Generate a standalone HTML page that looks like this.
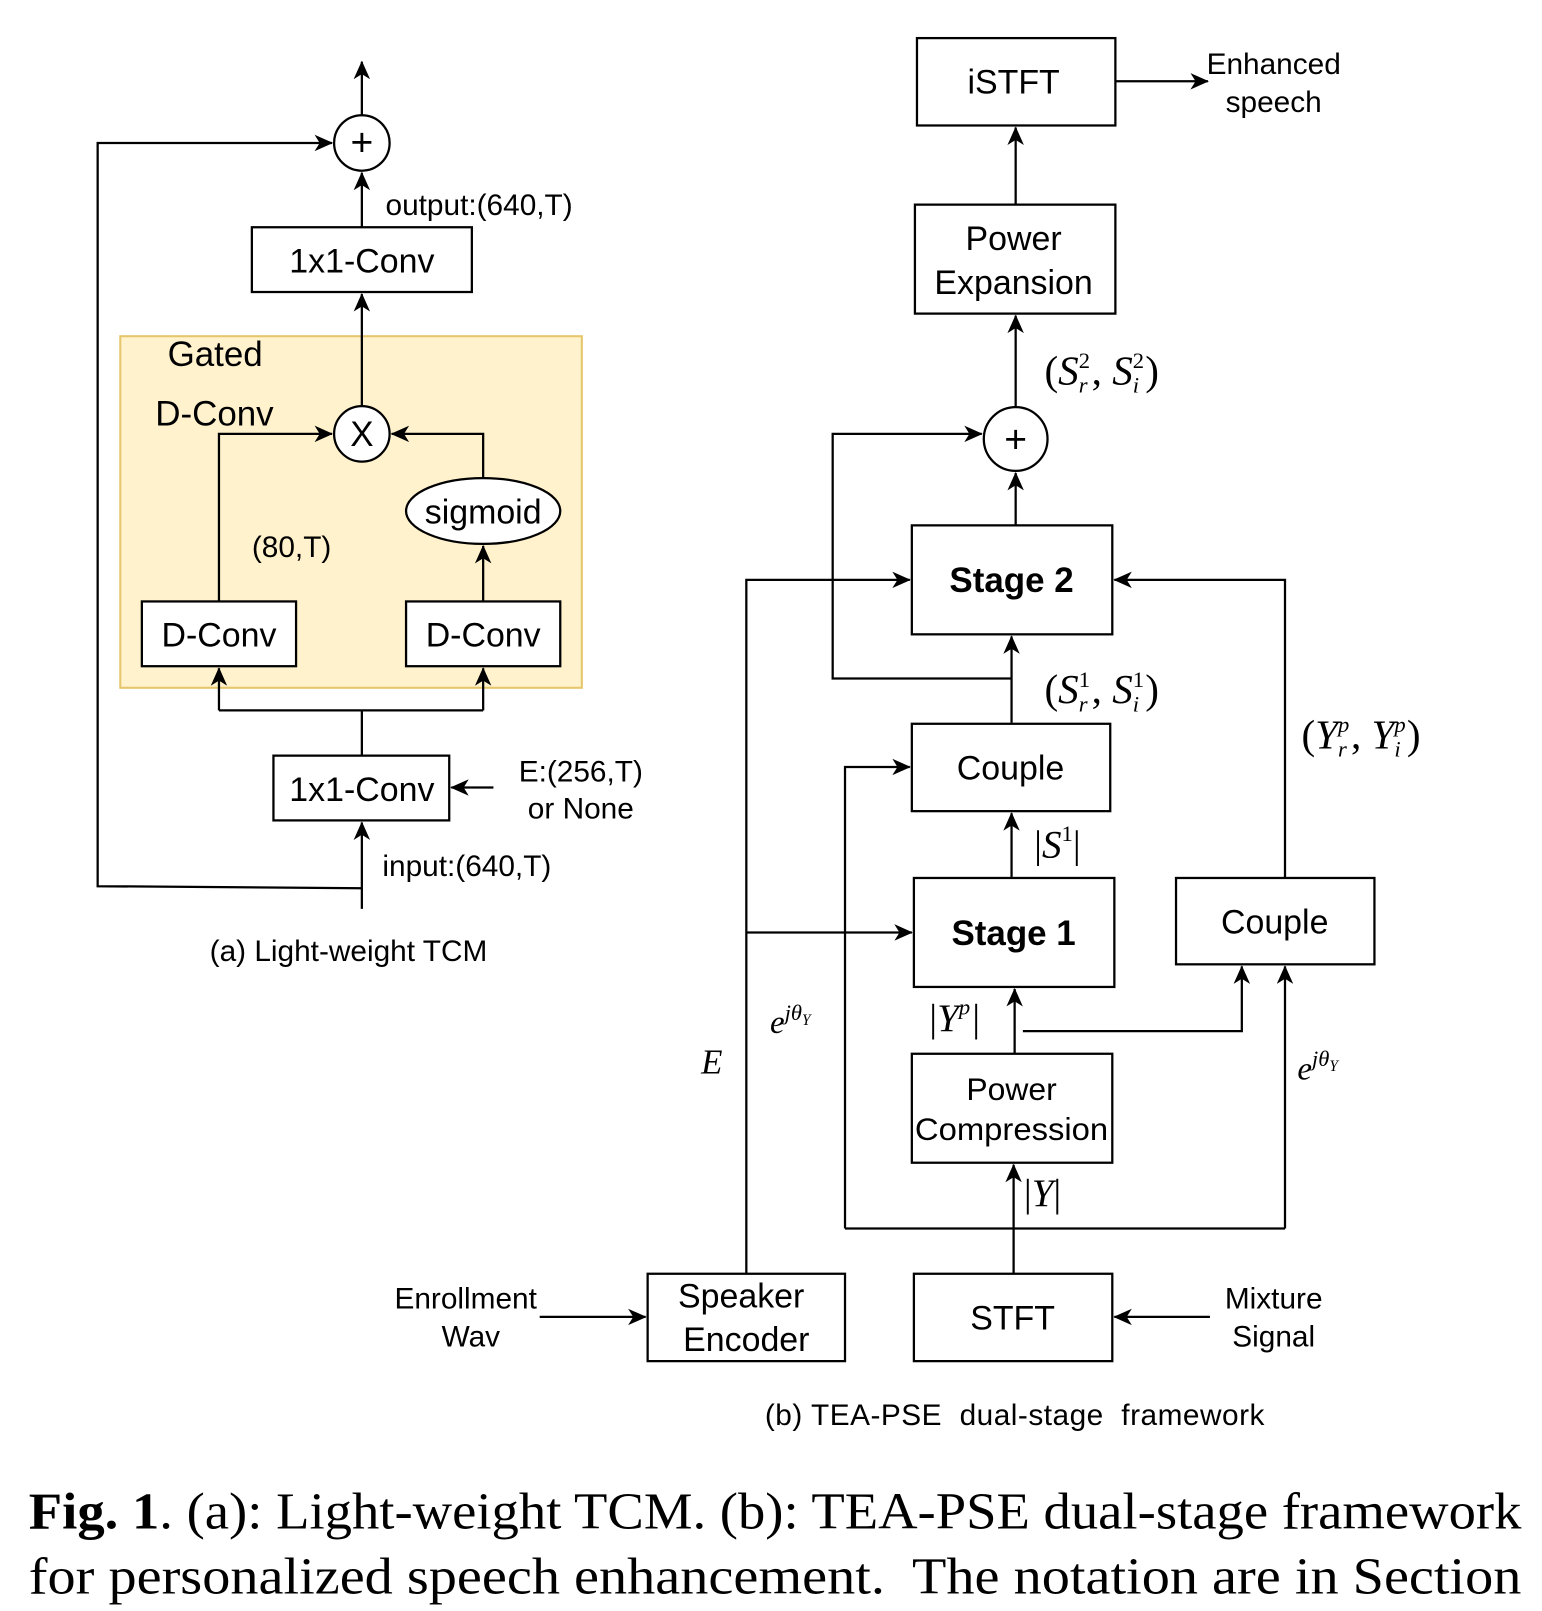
<!DOCTYPE html>
<html><head><meta charset="utf-8"><style>
html,body{margin:0;padding:0;background:#fff}
svg{display:block}
.s{font-family:"Liberation Sans",Arial,sans-serif;fill:#000}
.m{font-family:"Liberation Serif",serif;fill:#000}
.b{fill:#fff;stroke:#000;stroke-width:2.2}
.l{fill:none;stroke:#000;stroke-width:2.2}
</style></head><body>
<svg width="1542" height="1611" viewBox="0 0 1500 1567" xmlns="http://www.w3.org/2000/svg">
<defs><marker id="a" markerWidth="18" markerHeight="16" refX="17" refY="8" orient="auto" markerUnits="userSpaceOnUse"><path d="M0,0 L18,8 L0,16 L5,8 Z" fill="#000"/></marker></defs>

<!-- LEFT -->
<rect x="117" y="327" width="449" height="342" fill="#fff2cc" stroke="#e6c66a" stroke-width="2"/>
<line class="l" x1="352" y1="112" x2="352" y2="60" marker-end="url(#a)"/>
<circle class="b" cx="352" cy="139" r="27"/>
<text class="s" x="352" y="151" font-size="38" text-anchor="middle">+</text>
<polyline class="l" points="352,864 95,862 95,139 323,139" marker-end="url(#a)"/>
<line class="l" x1="352" y1="221" x2="352" y2="168" marker-end="url(#a)"/>
<text class="s" x="375" y="209" font-size="29">output:(640,T)</text>
<rect class="b" x="245" y="221" width="214" height="63"/>
<text class="s" x="352" y="265" font-size="33" text-anchor="middle">1x1-Conv</text>
<text class="s" x="163" y="356" font-size="34">Gated</text>
<text class="s" x="151" y="414" font-size="34">D-Conv</text>
<line class="l" x1="352" y1="395" x2="352" y2="286" marker-end="url(#a)"/>
<circle class="b" cx="352" cy="422" r="27"/>
<text class="s" x="352" y="434" font-size="34" text-anchor="middle">X</text>
<polyline class="l" points="213,585 213,422 323,422" marker-end="url(#a)"/>
<polyline class="l" points="470,465 470,422 381,422" marker-end="url(#a)"/>
<ellipse class="b" cx="470" cy="497" rx="75" ry="32"/>
<text class="s" x="470" y="509" font-size="33" text-anchor="middle">sigmoid</text>
<line class="l" x1="470" y1="585" x2="470" y2="531" marker-end="url(#a)"/>
<text class="s" x="245" y="542" font-size="29">(80,T)</text>
<rect class="b" x="138" y="585" width="150" height="63"/>
<text class="s" x="213" y="629" font-size="33" text-anchor="middle">D-Conv</text>
<rect class="b" x="395" y="585" width="150" height="63"/>
<text class="s" x="470" y="629" font-size="33" text-anchor="middle">D-Conv</text>
<line class="l" x1="352" y1="735" x2="352" y2="691"/>
<line class="l" x1="213" y1="691" x2="470" y2="691"/>
<line class="l" x1="213" y1="691" x2="213" y2="650" marker-end="url(#a)"/>
<line class="l" x1="470" y1="691" x2="470" y2="650" marker-end="url(#a)"/>
<rect class="b" x="266" y="735" width="171" height="63"/>
<text class="s" x="352" y="779" font-size="33" text-anchor="middle">1x1-Conv</text>
<line class="l" x1="480" y1="766" x2="439" y2="766" marker-end="url(#a)"/>
<text class="s" x="565" y="760" font-size="29" text-anchor="middle">E:(256,T)</text>
<text class="s" x="565" y="796" font-size="29" text-anchor="middle">or None</text>
<line class="l" x1="352" y1="884" x2="352" y2="800" marker-end="url(#a)"/>
<text class="s" x="372" y="852" font-size="29">input:(640,T)</text>
<text class="s" x="339" y="935" font-size="29" text-anchor="middle">(a) Light-weight TCM</text>

<!-- RIGHT -->
<rect class="b" x="892" y="37" width="193" height="85"/>
<text class="s" x="986" y="91" font-size="33" text-anchor="middle">iSTFT</text>
<line class="l" x1="1085" y1="79" x2="1175" y2="79" marker-end="url(#a)"/>
<text class="s" x="1239" y="72" font-size="29" text-anchor="middle">Enhanced</text>
<text class="s" x="1239" y="109" font-size="29" text-anchor="middle">speech</text>
<line class="l" x1="988" y1="199" x2="988" y2="124" marker-end="url(#a)"/>
<rect class="b" x="890" y="199" width="195" height="106"/>
<text class="s" x="986" y="243" font-size="33" text-anchor="middle">Power</text>
<text class="s" x="986" y="286" font-size="33" text-anchor="middle">Expansion</text>
<line class="l" x1="988" y1="396" x2="988" y2="307" marker-end="url(#a)"/>
<text class="m" x="1016" y="374" font-size="40">(<tspan font-style="italic">S</tspan><tspan font-size="22" dy="-16">2</tspan><tspan font-size="22" font-style="italic" dx="-11" dy="24">r</tspan><tspan dy="-8" dx="4">, </tspan><tspan font-style="italic">S</tspan><tspan font-size="22" dy="-16">2</tspan><tspan font-size="22" font-style="italic" dx="-11" dy="24">i</tspan><tspan dy="-8" dx="6">)</tspan></text>
<circle class="b" cx="988" cy="427" r="31"/>
<text class="s" x="988" y="440" font-size="38" text-anchor="middle">+</text>
<line class="l" x1="988" y1="511" x2="988" y2="460" marker-end="url(#a)"/>
<polyline class="l" points="984,660 810,660 810,422 955,422" marker-end="url(#a)"/>
<rect class="b" x="887" y="511" width="195" height="106"/>
<text class="s" x="984" y="576" font-size="34" font-weight="bold" text-anchor="middle">Stage 2</text>
<line class="l" x1="984" y1="703" x2="984" y2="619" marker-end="url(#a)"/>
<text class="m" x="1016" y="684" font-size="40">(<tspan font-style="italic">S</tspan><tspan font-size="22" dy="-16">1</tspan><tspan font-size="22" font-style="italic" dx="-11" dy="24">r</tspan><tspan dy="-8" dx="4">, </tspan><tspan font-style="italic">S</tspan><tspan font-size="22" dy="-16">1</tspan><tspan font-size="22" font-style="italic" dx="-11" dy="24">i</tspan><tspan dy="-8" dx="6">)</tspan></text>
<polyline class="l" points="726,1239 726,564 885,564" marker-end="url(#a)"/>
<line class="l" x1="726" y1="907" x2="887" y2="907" marker-end="url(#a)"/>
<polyline class="l" points="1250,853 1250,564 1084,564" marker-end="url(#a)"/>
<text class="m" x="1266" y="728" font-size="40">(<tspan font-style="italic">Y</tspan><tspan font-size="22" font-style="italic" dy="-16">p</tspan><tspan font-size="22" font-style="italic" dx="-11" dy="24">r</tspan><tspan dy="-8" dx="4">, </tspan><tspan font-style="italic">Y</tspan><tspan font-size="22" font-style="italic" dy="-16">p</tspan><tspan font-size="22" font-style="italic" dx="-11" dy="24">i</tspan><tspan dy="-8" dx="6">)</tspan></text>
<rect class="b" x="887" y="704" width="193" height="85"/>
<text class="s" x="983" y="758" font-size="33" text-anchor="middle">Couple</text>
<polyline class="l" points="822,1195 822,746 885,746" marker-end="url(#a)"/>
<line class="l" x1="984" y1="853" x2="984" y2="791" marker-end="url(#a)"/>
<text class="m" x="1006" y="834" font-size="38">|<tspan font-style="italic">S</tspan><tspan font-size="22" dy="-16">1</tspan><tspan dy="16">|</tspan></text>
<rect class="b" x="889" y="854" width="195" height="106"/>
<text class="s" x="986" y="919" font-size="34" font-weight="bold" text-anchor="middle">Stage 1</text>
<rect class="b" x="1144" y="854" width="193" height="84"/>
<text class="s" x="1240" y="908" font-size="33" text-anchor="middle">Couple</text>
<line class="l" x1="987" y1="1025" x2="987" y2="962" marker-end="url(#a)"/>
<polyline class="l" points="995,1003 1208,1003 1208,940" marker-end="url(#a)"/>
<text class="m" x="904" y="1003" font-size="38">|<tspan font-style="italic">Y</tspan><tspan font-size="22" font-style="italic" dy="-16">p</tspan><tspan dy="16" dx="2">|</tspan></text>
<rect class="b" x="887" y="1025" width="195" height="106"/>
<text class="s" x="984" y="1070" font-size="31" text-anchor="middle">Power</text>
<text class="s" x="984" y="1109" font-size="31" text-anchor="middle" textLength="188" lengthAdjust="spacingAndGlyphs">Compression</text>
<line class="l" x1="986" y1="1239" x2="986" y2="1133" marker-end="url(#a)"/>
<text class="m" x="996" y="1173" font-size="38">|<tspan font-style="italic">Y</tspan>|</text>
<line class="l" x1="822" y1="1195" x2="1250" y2="1195"/>
<line class="l" x1="1250" y1="1195" x2="1250" y2="940" marker-end="url(#a)"/>
<text class="m" x="749" y="1005" font-size="32" font-style="italic">e<tspan font-size="22" dy="-13">jθ</tspan><tspan font-size="15" dy="5">Y</tspan></text>
<text class="m" x="682" y="1044" font-size="34" font-style="italic">E</text>
<text class="m" x="1262" y="1050" font-size="32" font-style="italic">e<tspan font-size="22" dy="-13">jθ</tspan><tspan font-size="15" dy="5">Y</tspan></text>
<rect class="b" x="889" y="1239" width="193" height="85"/>
<text class="s" x="985" y="1293" font-size="33" text-anchor="middle">STFT</text>
<line class="l" x1="1177" y1="1281" x2="1084" y2="1281" marker-end="url(#a)"/>
<text class="s" x="1239" y="1273" font-size="29" text-anchor="middle">Mixture</text>
<text class="s" x="1239" y="1310" font-size="29" text-anchor="middle">Signal</text>
<rect class="b" x="630" y="1239" width="192" height="85"/>
<text class="s" x="721" y="1272" font-size="33" text-anchor="middle">Speaker</text>
<text class="s" x="726" y="1314" font-size="33" text-anchor="middle">Encoder</text>
<line class="l" x1="525" y1="1281" x2="628" y2="1281" marker-end="url(#a)"/>
<text class="s" x="453" y="1273" font-size="29" text-anchor="middle">Enrollment</text>
<text class="s" x="458" y="1310" font-size="29" text-anchor="middle">Wav</text>
<text class="s" x="987" y="1386" font-size="29" text-anchor="middle" xml:space="preserve" textLength="486" lengthAdjust="spacing">(b) TEA-PSE  dual-stage  framework</text>

<text class="m" x="28" y="1487" font-size="50" textLength="1452" lengthAdjust="spacingAndGlyphs"><tspan font-weight="bold">Fig. 1</tspan>. (a): Light-weight TCM. (b): TEA-PSE dual-stage framework</text>
<text class="m" x="28" y="1550" font-size="50" textLength="1452" lengthAdjust="spacingAndGlyphs" xml:space="preserve">for personalized speech enhancement.  The notation are in Section</text>
</svg>
</body></html>
